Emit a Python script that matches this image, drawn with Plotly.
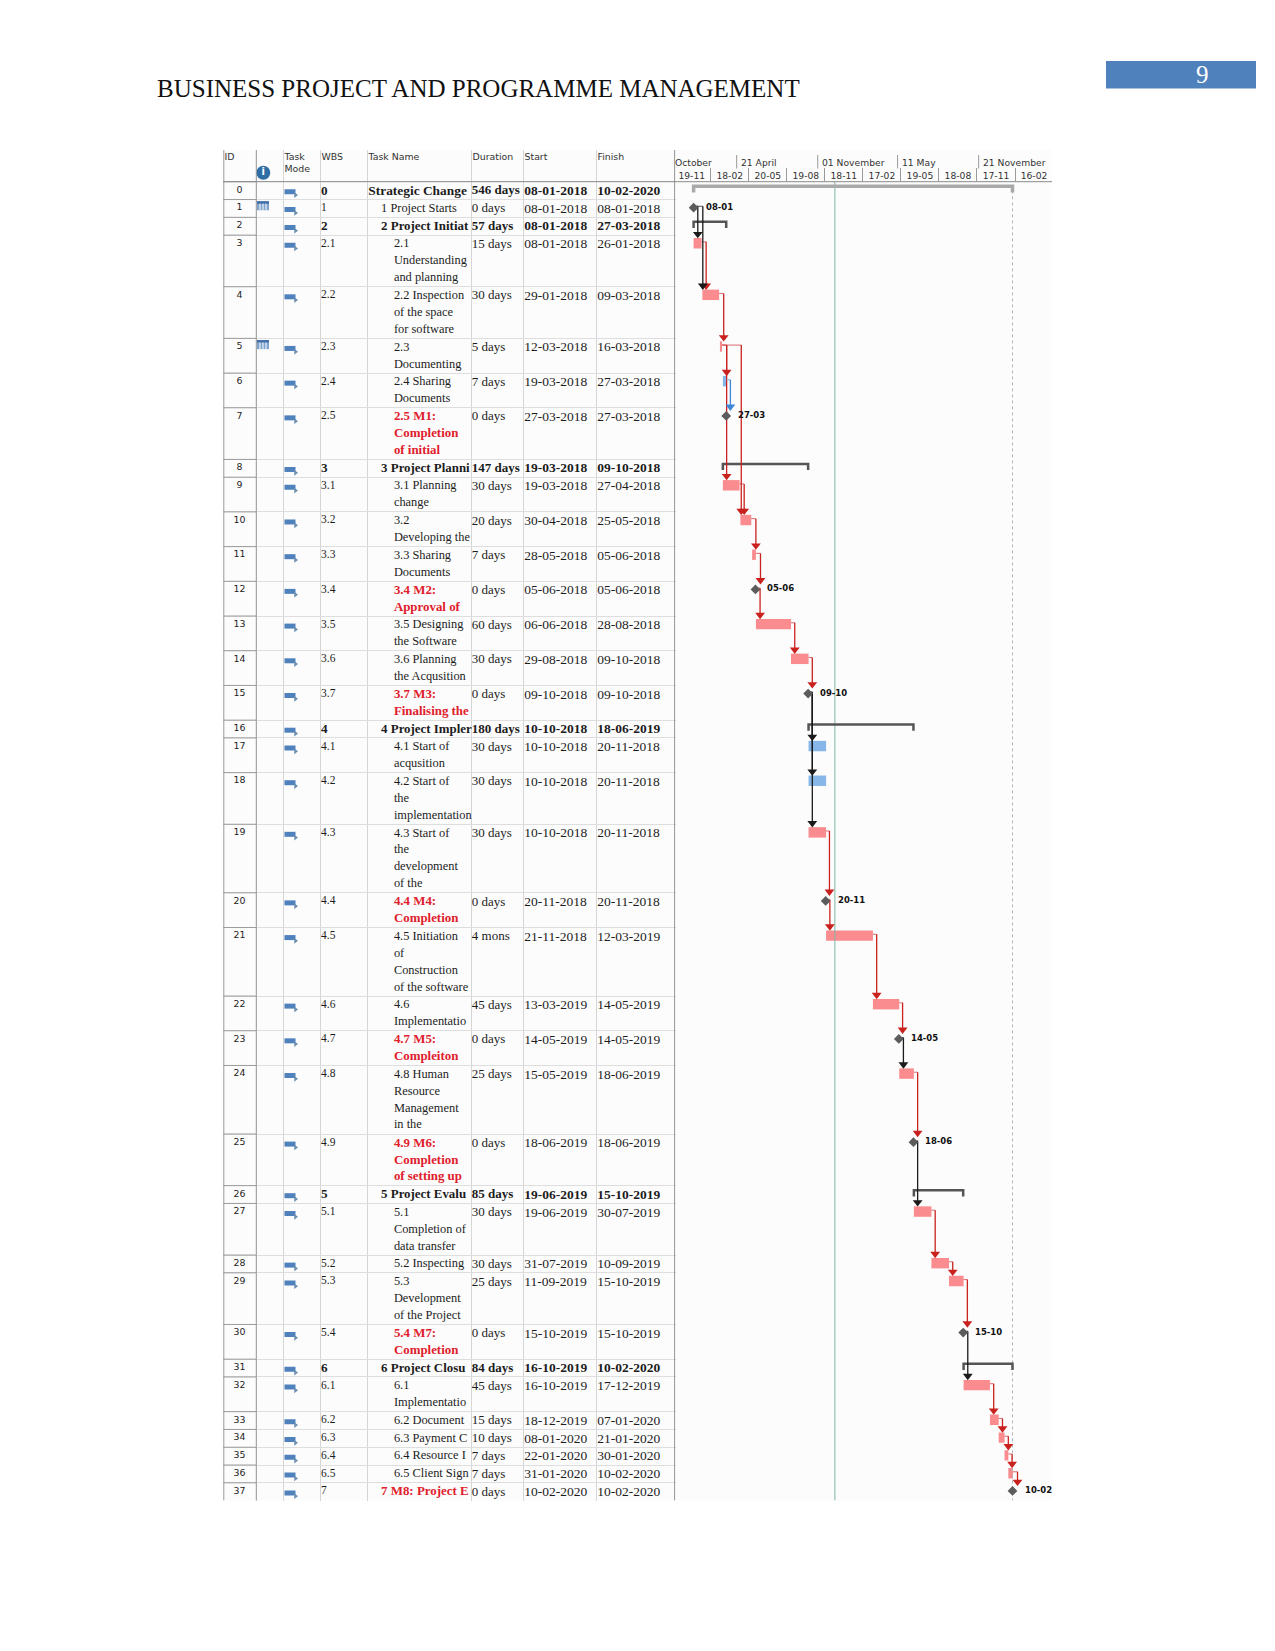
import numpy as np
import pandas as pd
import plotly.graph_objects as go

W, H = 1275, 1651

ids = list(range(38))
wbs = ['0', '1', '2', '2.1', '2.2', '2.3', '2.4', '2.5', '3', '3.1', '3.2', '3.3', '3.4', '3.5', '3.6', '3.7',
       '4', '4.1', '4.2', '4.3', '4.4', '4.5', '4.6', '4.7', '4.8', '4.9', '5', '5.1', '5.2', '5.3', '5.4',
       '6', '6.1', '6.2', '6.3', '6.4', '6.5', '7']
names = ['Strategic Change', '1 Project Starts', '2 Project Initiat',
         '2.1\nUnderstanding\nand planning', '2.2 Inspection\nof the space\nfor software',
         '2.3\nDocumenting', '2.4 Sharing\nDocuments', '2.5 M1:\nCompletion\nof initial',
         '3 Project Planni', '3.1 Planning\nchange', '3.2\nDeveloping the', '3.3 Sharing\nDocuments',
         '3.4 M2:\nApproval of', '3.5 Designing\nthe Software', '3.6 Planning\nthe Acqusition',
         '3.7 M3:\nFinalising the', '4 Project Impler', '4.1 Start of\nacqusition',
         '4.2 Start of\nthe\nimplementation', '4.3 Start of\nthe\ndevelopment\nof the',
         '4.4 M4:\nCompletion', '4.5 Initiation\nof\nConstruction\nof the software',
         '4.6\nImplementatio', '4.7 M5:\nCompleiton', '4.8 Human\nResource\nManagement\nin the',
         '4.9 M6:\nCompletion\nof setting up', '5 Project Evalu', '5.1\nCompletion of\ndata transfer',
         '5.2 Inspecting', '5.3\nDevelopment\nof the Project', '5.4 M7:\nCompletion', '6 Project Closu',
         '6.1\nImplementatio', '6.2 Document', '6.3 Payment C', '6.4 Resource I', '6.5 Client Sign',
         '7 M8: Project E']
durations = ['546 days', '0 days', '57 days', '15 days', '30 days', '5 days', '7 days', '0 days',
             '147 days', '30 days', '20 days', '7 days', '0 days', '60 days', '30 days', '0 days',
             '180 days', '30 days', '30 days', '30 days', '0 days', '4 mons', '45 days', '0 days',
             '25 days', '0 days', '85 days', '30 days', '30 days', '25 days', '0 days',
             '84 days', '45 days', '15 days', '10 days', '7 days', '7 days', '0 days']
starts = ['08-01-2018', '08-01-2018', '08-01-2018', '08-01-2018', '29-01-2018', '12-03-2018', '19-03-2018',
          '27-03-2018', '19-03-2018', '19-03-2018', '30-04-2018', '28-05-2018', '05-06-2018', '06-06-2018',
          '29-08-2018', '09-10-2018', '10-10-2018', '10-10-2018', '10-10-2018', '10-10-2018', '20-11-2018',
          '21-11-2018', '13-03-2019', '14-05-2019', '15-05-2019', '18-06-2019', '19-06-2019', '19-06-2019',
          '31-07-2019', '11-09-2019', '15-10-2019', '16-10-2019', '16-10-2019', '18-12-2019', '08-01-2020',
          '22-01-2020', '31-01-2020', '10-02-2020']
finishes = ['10-02-2020', '08-01-2018', '27-03-2018', '26-01-2018', '09-03-2018', '16-03-2018', '27-03-2018',
            '27-03-2018', '09-10-2018', '27-04-2018', '25-05-2018', '05-06-2018', '05-06-2018', '28-08-2018',
            '09-10-2018', '09-10-2018', '18-06-2019', '20-11-2018', '20-11-2018', '20-11-2018', '20-11-2018',
            '12-03-2019', '14-05-2019', '14-05-2019', '18-06-2019', '18-06-2019', '15-10-2019', '30-07-2019',
            '10-09-2019', '15-10-2019', '15-10-2019', '10-02-2020', '17-12-2019', '07-01-2020', '21-01-2020',
            '30-01-2020', '10-02-2020', '10-02-2020']
# number of text lines in each row, this sets the row height
row_lines = [1, 1, 1, 3, 3, 2, 2, 3, 1, 2, 2, 2, 2, 2, 2, 2, 1, 2, 3, 4, 2, 4, 2, 2, 4, 3, 1, 3, 1, 3, 2,
             1, 2, 1, 1, 1, 1, 1]
indent = [0] + [1 if '.' not in w else 2 for w in wbs[1:]]

summary_rows = [0, 2, 8, 16, 26, 31]
milestone_rows = [1, 7, 12, 15, 20, 23, 25, 30, 37]
red_name_rows = [7, 12, 15, 20, 23, 25, 30, 37]
blue_rows = [6, 17, 18]
calendar_rows = [1, 5]

# dependency links: predecessor, successor, colour group, nudge of the vertical in days
link_from = [1, 1, 3, 4, 5, 5, 5, 6, 9, 10, 11, 12, 13, 14, 15, 15, 15, 19, 20, 21, 22, 23, 24, 25, 27, 28,
             29, 30, 32, 33, 34, 35, 36]
link_to = [3, 4, 4, 5, 6, 9, 10, 7, 10, 11, 12, 13, 14, 15, 17, 18, 19, 20, 21, 22, 23, 24, 25, 27, 28, 29,
           30, 32, 33, 34, 35, 36, 37]
link_kind = ['black', 'black', 'red', 'red', 'red', 'red', 'red', 'blue', 'red', 'red', 'red', 'red', 'red',
             'red', 'black', 'black', 'black', 'red', 'red', 'red', 'red', 'black', 'red', 'black', 'red',
             'red', 'red', 'black', 'red', 'red', 'red', 'red', 'red']
link_nudge = [1, -8, 0, 0, 0, 0, -7, 1, 0, 0, 3, 1, 0, 1, 0, 0, 0, 0, 0, 0, 0, 1, 1, 0, 0, 0, 1, 1, 0, 0, 0, 0, 3]

lower_ticks = ['2017-11-19', '2018-02-18', '2018-05-20', '2018-08-19', '2018-11-18', '2019-02-17',
               '2019-05-19', '2019-08-18', '2019-11-17', '2020-02-16']
lower_labels = ['19-11', '18-02', '20-05', '19-08', '18-11', '17-02', '19-05', '18-08', '17-11', '16-02']
upper_ticks = ['2017-11-15', '2018-04-21', '2018-11-01', '2019-05-11', '2019-11-21']
upper_labels = ['October', '21 April', '01 November', '11 May', '21 November']
status_date = '2018-12-12'

column_names = ['ID', 'Task<br>Mode', 'WBS', 'Task Name', 'Duration', 'Start', 'Finish']
inner_edges = [256.3, 283.3, 320.3, 367.3, 471.3, 523.3, 596.3]

colors = dict(red='#c9211e', black='#1a1a1a', blue='#3f87d6')
stub_colors = dict(red='#dd6a70', black='#555555', blue='#7fb0e0')
SERIF = 'Liberation Serif'
UI = 'DejaVu Sans'
INK = '#1c1c1c'
LINE_STEP = 0.975


def xp(px):
    return px / W


def yp(px):
    return 1 - px / H


row_height = [0.05 + LINE_STEP * n for n in row_lines]
row_top = np.concatenate([[0], np.cumsum(row_height)[:-1]])
total_lines = sum(row_height)
start_dt = pd.to_datetime(starts, format='%d-%m-%Y')
finish_dt = pd.to_datetime(finishes, format='%d-%m-%Y')
bar_end = finish_dt + pd.Timedelta(days=1)
mid = row_top + 0.47

fig = go.Figure()

# table text
def table_text(x, y, text, size, color=INK, font=SERIF, pos='bottom right'):
    fig.add_trace(go.Scatter(x=x, y=y, text=text, mode='text', textposition=pos,
                             textfont=dict(family=font, size=size, color=color),
                             xaxis='x2', yaxis='y2', hoverinfo='skip', showlegend=False))


def bold_if_summary(values):
    return ['<b>%s</b>' % v if i in summary_rows else v for i, v in enumerate(values)]


table_text([239.5] * 38, row_top + 0.22, [str(i) for i in ids], 9.4, font=UI, pos='bottom center')
fig.add_trace(go.Scatter(x=[321] * 38, y=row_top + 0.17, text=bold_if_summary(wbs), mode='text',
                         textposition='bottom right',
                         textfont=dict(family=SERIF, color=INK,
                                       size=[13.2 if i in summary_rows else 11.5 for i in ids]),
                         xaxis='x2', yaxis='y2', hoverinfo='skip', showlegend=False))

name_x, name_y, name_text, name_color, name_size = [], [], [], [], []
for i, name in enumerate(names):
    for j, part in enumerate(name.split('\n')):
        red = i in red_name_rows
        heavy = i in summary_rows or red
        name_x.append(368.3 + 12.8 * indent[i])
        name_y.append(row_top[i] + j * LINE_STEP + 0.17)
        name_text.append('<b>%s</b>' % part if heavy else part)
        name_color.append('#e0202c' if red else INK)
        if i == 0:
            name_size.append(13.4)
        elif heavy:
            name_size.append(12.9)
        else:
            name_size.append(12.4)
fig.add_trace(go.Scatter(x=name_x, y=name_y, text=name_text, mode='text', textposition='bottom right',
                         textfont=dict(family=SERIF, color=name_color, size=name_size),
                         xaxis='x2', yaxis='y2', hoverinfo='skip', showlegend=False))
table_text([471.8] * 38, row_top + 0.17, bold_if_summary(durations), 13)
table_text([524.3] * 38, row_top + 0.17, bold_if_summary(starts), 13.5)
table_text([597.3] * 38, row_top + 0.17, bold_if_summary(finishes), 13.5)

# table header
header_y = [-1.66] * 7
table_text([224.5, 284.5, 321.5, 368.5, 472.5, 524.5, 597.5], header_y, column_names, 9.4, color='#333333', font=UI)
fig.add_trace(go.Scatter(x=[263.3], y=[-0.52], mode='markers+text', text=['<b>i</b>'], textposition='middle center',
                         marker=dict(size=14, color='#2f6ea5'),
                         textfont=dict(family=UI, size=10, color='white'),
                         xaxis='x2', yaxis='y2', hoverinfo='skip', showlegend=False))

# darker rules of the ID column
id_x, id_y = [], []
for top in list(row_top[1:]) + [0]:
    id_x += [223.3, 256.3, None]
    id_y += [top, top, None]
id_x += [223.8, 223.8, None, 256.3, 256.3]
id_y += [-1.83, total_lines, None, -1.83, total_lines]
fig.add_trace(go.Scatter(x=id_x, y=id_y, mode='lines', line=dict(color='#9c9c9c', width=1),
                         xaxis='x2', yaxis='y2', hoverinfo='skip', showlegend=False))
fig.add_trace(go.Scatter(x=[674.7, 674.7], y=[-1.83, total_lines], mode='lines', line=dict(color='#8a8a8a', width=1),
                         xaxis='x2', yaxis='y2', hoverinfo='skip', showlegend=False))

# task mode icons
icon_x, icon_y = [], []
for top in row_top:
    icon_x += [284.5, 295.5, None]
    icon_y += [top + 0.58, top + 0.58, None]
fig.add_trace(go.Scatter(x=icon_x, y=icon_y, mode='lines', line=dict(color='#4f81bd', width=5),
                         xaxis='x2', yaxis='y2', hoverinfo='skip', showlegend=False))
fig.add_trace(go.Scatter(x=[295.5] * 38, y=row_top + 0.77, mode='markers',
                         marker=dict(symbol='triangle-right', size=5, color='#6d8fb0'),
                         xaxis='x2', yaxis='y2', hoverinfo='skip', showlegend=False))

# calendar icons
shapes = []
for r in calendar_rows:
    top = row_top[r]
    shapes.append(dict(type='rect', xref='x2', yref='y2', x0=257, x1=269, y0=top + 0.1, y1=top + 0.62,
                       fillcolor='#7fa3cc', line=dict(width=0)))
    shapes.append(dict(type='rect', xref='x2', yref='y2', x0=257, x1=269, y0=top + 0.1, y1=top + 0.24,
                       fillcolor='#3f6ea8', line=dict(width=0)))
    for vx in [260, 263, 266]:
        shapes.append(dict(type='line', xref='x2', yref='y2', x0=vx, x1=vx, y0=top + 0.24, y1=top + 0.62,
                           line=dict(color='white', width=1)))

# gantt bars
bar_rows = [i for i in ids if i not in summary_rows and i not in milestone_rows]
fig.add_trace(go.Bar(y=[mid[i] for i in bar_rows],
                     x=[(bar_end[i] - start_dt[i]).total_seconds() * 1000 for i in bar_rows],
                     base=[start_dt[i].strftime('%Y-%m-%d') for i in bar_rows],
                     width=0.6, orientation='h',
                     marker=dict(color=['#87b7e8' if i in blue_rows else '#fa8b8e' for i in bar_rows],
                                 line=dict(width=0)),
                     xaxis='x', yaxis='y', hoverinfo='skip', showlegend=False))

# status date and project end
fig.add_trace(go.Scatter(x=[status_date, status_date], y=[0, total_lines], mode='lines',
                         line=dict(color='#7db9a3', width=1), xaxis='x', yaxis='y',
                         hoverinfo='skip', showlegend=False))
fig.add_trace(go.Scatter(x=[finish_dt[0], finish_dt[0]], y=[0.5, total_lines], mode='lines',
                         line=dict(color='#b5b5b5', width=1, dash='dot'), xaxis='x', yaxis='y',
                         hoverinfo='skip', showlegend=False))

# summary brackets
for r in summary_rows:
    a, b = start_dt[r], finish_dt[r]
    fig.add_trace(go.Scatter(x=[a, a, b, b], y=[row_top[r] + 0.62, row_top[r] + 0.26, row_top[r] + 0.26, row_top[r] + 0.62],
                             mode='lines', line=dict(color='#a9a9a9' if r == 0 else '#555555', width=3.5 if r == 0 else 2.5),
                             xaxis='x', yaxis='y', hoverinfo='skip', showlegend=False))

# dependency links
for kind in colors:
    sx, sy, lx, ly, ax, ay = [], [], [], [], [], []
    for a, b, k, nudge in zip(link_from, link_to, link_kind, link_nudge):
        if k != kind:
            continue
        vert = start_dt[b] + pd.Timedelta(days=9 + nudge)
        tail = start_dt[a] if a in milestone_rows else bar_end[a]
        sx += [tail, vert, None]
        sy += [mid[a] - 0.08, mid[a] - 0.08, None]
        lx += [vert, vert, None]
        ly += [mid[a] - 0.08, row_top[b] - 0.06, None]
        ax.append(vert)
        ay.append(row_top[b] - 0.06)
    fig.add_trace(go.Scatter(x=sx, y=sy, mode='lines', line=dict(color=stub_colors[kind], width=1),
                             xaxis='x', yaxis='y', hoverinfo='skip', showlegend=False))
    fig.add_trace(go.Scatter(x=lx, y=ly, mode='lines', line=dict(color=colors[kind], width=1.3),
                             xaxis='x', yaxis='y', hoverinfo='skip', showlegend=False))
    fig.add_trace(go.Scatter(x=ax, y=ay, mode='markers',
                             marker=dict(symbol='triangle-down', size=8.5, color=colors[kind]),
                             xaxis='x', yaxis='y', hoverinfo='skip', showlegend=False))

# milestones
fig.add_trace(go.Scatter(x=[start_dt[i] for i in milestone_rows], y=[mid[i] for i in milestone_rows], mode='markers',
                         marker=dict(symbol='diamond', size=7.5, color='#5c5c5c'),
                         xaxis='x', yaxis='y', hoverinfo='skip', showlegend=False))
annotations = [dict(x=start_dt[i], y=mid[i], xref='x', yref='y', text='<b>%s</b>' % starts[i][:5], showarrow=False,
                    xanchor='left', yanchor='middle', xshift=10, yshift=1,
                    font=dict(family=UI, size=8.5, color='#111111'))
               for i in milestone_rows]

# upper timescale tier
for i, (tick, label) in enumerate(zip(upper_ticks, upper_labels)):
    annotations.append(dict(x=tick, y=yp(162.5), xref='x', yref='paper', text=label, showarrow=False,
                            xanchor='left', yanchor='middle', xshift=2,
                            font=dict(family=UI, size=9.2, color='#333333')))
    if i > 0:
        shapes.append(dict(type='line', xref='x', yref='paper', x0=tick, x1=tick, y0=yp(155), y1=yp(168.5),
                           line=dict(color='#9a9a9a', width=1)))

# page furniture
shapes.append(dict(type='rect', xref='paper', yref='paper', x0=xp(1106), x1=xp(1256), y0=yp(88.5), y1=yp(61),
                   fillcolor='#4f81bd', line=dict(width=0), layer='below'))
shapes.append(dict(type='line', xref='paper', yref='paper', x0=xp(223), x1=xp(1052), y0=yp(181.7), y1=yp(181.7),
                   line=dict(color='#8a8a8a', width=1)))
shapes.insert(0, dict(type='rect', xref='paper', yref='paper', x0=xp(670), x1=xp(1052), y0=yp(181.7), y1=yp(150),
                      fillcolor='#fcfcfc', line=dict(width=0), layer='below'))
annotations.append(dict(x=xp(154.5), y=yp(88.5), xref='paper', yref='paper', xanchor='left', yanchor='middle',
                        showarrow=False, text='BUSINESS PROJECT AND PROGRAMME MANAGEMENT',
                        font=dict(family=SERIF, size=25, color='#111111')))
annotations.append(dict(x=xp(1202), y=yp(74.5), xref='paper', yref='paper', xanchor='center', yanchor='middle',
                        showarrow=False, text='9', font=dict(family=SERIF, size=25, color='white')))

fig.update_layout(
    width=W, height=H, autosize=False, margin=dict(l=0, r=0, t=0, b=0, pad=0),
    paper_bgcolor='white', plot_bgcolor='#fcfcfc', showlegend=False, hovermode=False,
    barmode='overlay', shapes=shapes, annotations=annotations,
    xaxis=dict(type='date', domain=[xp(670), xp(1052)], anchor='y', side='top',
               range=['2017-11-12 12:00', '2020-05-14 12:00'], showgrid=False, zeroline=False,
               tickmode='array', tickvals=lower_ticks, ticktext=lower_labels, ticks='outside', ticklen=13,
               tickcolor='#9a9a9a', tickwidth=1, ticklabelshift=19, ticklabelstandoff=-15,
               tickfont=dict(family=UI, size=9.2, color='#333333'), showline=False),
    yaxis=dict(domain=[yp(1500.6), yp(181.7)], range=[total_lines, 0], anchor='x', showgrid=False,
               zeroline=False, showticklabels=False, ticks=''),
    xaxis2=dict(domain=[xp(223), xp(675.5)], range=[223, 675.5], anchor='y2', showgrid=True, gridcolor='#d6d6d6',
                gridwidth=1, zeroline=False, showticklabels=False, ticks='', tickmode='array',
                tickvals=inner_edges),
    yaxis2=dict(domain=[yp(1500.6), yp(150)], range=[total_lines, -1.83], anchor='x2', showgrid=True,
                gridcolor='#dedede', gridwidth=1, zeroline=False, showticklabels=False, ticks='',
                tickmode='array', tickvals=list(row_top)),
)

fig.write_html('out.html', config={'displayModeBar': False},
               post_script="document.body.style.margin='0';document.body.style.overflow='hidden';")
